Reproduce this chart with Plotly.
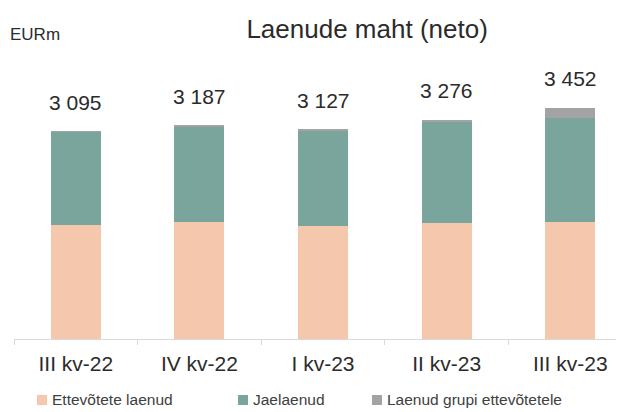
import plotly.graph_objects as go

categories = ["III kv-22", "IV kv-22", "I kv-23", "II kv-23", "III kv-23"]
ettevotete = [1700, 1745, 1685, 1730, 1750]
jaelaenud = [1390, 1430, 1434, 1521, 1542]
grupi = [5, 12, 8, 25, 160]
totals = [3095, 3187, 3127, 3276, 3452]
total_labels = ["3 095", "3 187", "3 127", "3 276", "3 452"]
series_names = ["Ettevõtete laenud", "Jaelaenud", "Laenud grupi ettevõtetele"]
series_colors = ["#F5C8AE", "#7AA59D", "#A3A3A3"]

FONT = "Liberation Sans, Arial, sans-serif"
TXT = "#2b2b2b"
W, H = 617, 412
ML, MR, MT, MB = 14, 1, 40, 73
PW, PH = W - ML - MR, H - MT - MB

fig = go.Figure()
for vals, name, col in zip([ettevotete, jaelaenud, grupi], series_names, series_colors):
    fig.add_bar(x=categories, y=vals, name=name, marker_color=col, marker_line_width=0)

for c, t, lab in zip(categories, totals, total_labels):
    fig.add_annotation(x=c, y=t, text=lab, showarrow=False, yanchor="middle", yshift=29,
                       font=dict(family=FONT, size=21, color=TXT))

fig.add_annotation(xref="paper", yref="paper", x=-0.01, y=1.0, xanchor="left", yanchor="middle",
                   yshift=6, text="EURm", showarrow=False, font=dict(family=FONT, size=17, color=TXT))

# legend drawn below the axis (pixel positions converted to paper coordinates)
def px_x(px):
    return (px - ML) / PW

def px_y(py):
    return (H - MB - py) / PH

legend_sq_left = [37, 238, 372]
legend_y = 399
for left, name, col in zip(legend_sq_left, series_names, series_colors):
    fig.add_shape(type="rect", xref="paper", yref="paper",
                  x0=px_x(left), x1=px_x(left + 10), y0=px_y(legend_y + 6), y1=px_y(legend_y - 4),
                  fillcolor=col, line_width=0)
    fig.add_annotation(xref="paper", yref="paper", x=px_x(left + 13), y=px_y(legend_y),
                       xanchor="left", yanchor="middle", text=name, showarrow=False,
                       font=dict(family=FONT, size=15.5, color="#404040"))

fig.update_layout(
    width=W, height=H,
    margin=dict(l=ML, r=MR, t=MT, b=MB, autoexpand=False),
    barmode="stack", bargap=0.595,
    paper_bgcolor="white", plot_bgcolor="white",
    title=dict(text="Laenude maht (neto)", x=0.595, xanchor="center", y=0.93, yanchor="middle",
               font=dict(family=FONT, size=26, color=TXT)),
    showlegend=False,
    font=dict(family=FONT),
)
fig.update_xaxes(range=[-0.5, 4.37], showline=True, linecolor="#D9D9D9", linewidth=1,
                 ticks="outside", tickson="boundaries", ticklen=5, tickcolor="#D9D9D9",
                 ticklabelstandoff=6,
                 tickfont=dict(family=FONT, size=21, color=TXT), showgrid=False, automargin=False)
fig.update_yaxes(range=[0, 4463], visible=False, showgrid=False)

fig.write_html("out.html", config={"displayModeBar": False},
               post_script="document.body.style.margin='0';document.body.style.padding='0';")
